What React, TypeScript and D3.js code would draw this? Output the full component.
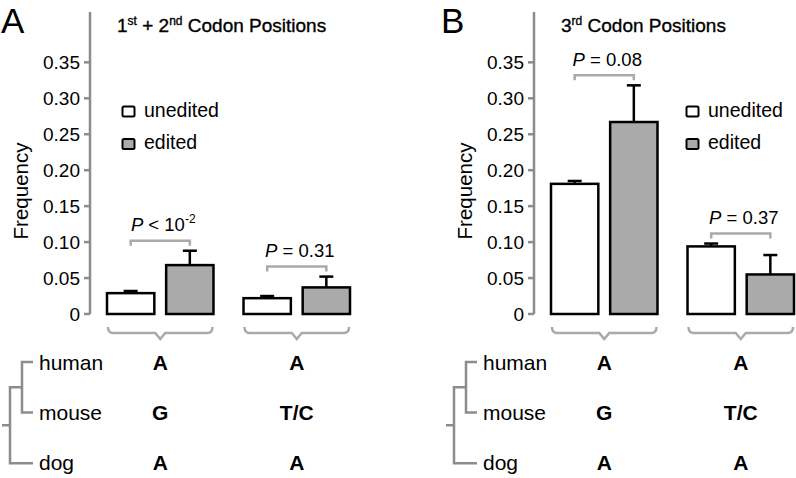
import React from "react";
import * as d3 from "d3";

const groups = ["g1", "g2"];
const seriesNames = ["unedited", "edited"];
const yTicks = [0, 0.05, 0.1, 0.15, 0.2, 0.25, 0.3, 0.35];

const meansA_unedited = [0.029, 0.022];
const meansA_edited = [0.068, 0.037];
const errA_unedited = [0.003, 0.003];
const errA_edited = [0.020, 0.015];
const pLabelsA = ["< 10", "= 0.31"];
const pSupA = ["-2", ""];

const meansB_unedited = [0.181, 0.094];
const meansB_edited = [0.267, 0.055];
const errB_unedited = [0.004, 0.004];
const errB_edited = [0.051, 0.027];
const pLabelsB = ["= 0.08", "= 0.37"];
const pSupB = ["", ""];

const species = ["human", "mouse", "dog"];
const allelesG1 = ["A", "G", "A"];
const allelesG2 = ["A", "T/C", "A"];

const FONT = "'Liberation Sans', Arial, Helvetica, sans-serif";
const AXIS_GRAY = "#8c8c8c";
const LIGHT_GRAY = "#aaaaaa";
const BAR_GRAY = "#aaaaaa";

const y = d3.scaleLinear().domain([0, 0.42]).range([314, 12]);
const xGroup = d3.scaleBand<string>().domain(groups).range([107, 350]).paddingInner(0.22).paddingOuter(0);
const xSeries = d3.scaleBand<string>().domain(seriesNames).range([0, xGroup.bandwidth()]).paddingInner(0.2).paddingOuter(0);

function Panel(props: {
  ox: number;
  letter: string;
  title: React.ReactNode;
  unedited: number[];
  edited: number[];
  errU: number[];
  errE: number[];
  pLabels: string[];
  pSup: string[];
  legendX: number;
}) {
  const { ox, letter, title, unedited, edited, errU, errE, pLabels, pSup, legendX } = props;
  const axisX = 90;
  const capW = 14;
  const treeRows = species.map((_, i) => 362 + i * 50.6);
  return (
    <g transform={`translate(${ox},0)`} fontFamily={FONT}>
      <text x={letter === "A" ? 1 : -3} y={33} fontSize={35} fill="#000">{letter}</text>
      <text x={117} y={32} fontSize={19} fill="#000" stroke="#000" strokeWidth={0.35}>{title}</text>
      {/* axis */}
      <line x1={axisX} x2={axisX} y1={y(0.42)} y2={y(0)} stroke={AXIS_GRAY} strokeWidth={2.5} />
      {yTicks.map((t) => (
        <g key={t}>
          <line x1={axisX - 6} x2={axisX} y1={y(t)} y2={y(t)} stroke={AXIS_GRAY} strokeWidth={2.5} />
          <text x={axisX - 10} y={y(t) + 7} fontSize={19} textAnchor="end" fill="#000">
            {t === 0 ? "0" : t.toFixed(2)}
          </text>
        </g>
      ))}
      <text transform={`translate(28,191) rotate(-90)`} fontSize={20.5} textAnchor="middle" fill="#000">Frequency</text>
      {/* legend */}
      {seriesNames.map((s, i) => (
        <g key={s}>
          <rect x={legendX + 0.5} y={106.5 + i * 32.5} width={12} height={10} rx={1.5}
            fill={s === "edited" ? BAR_GRAY : "#fff"} stroke="#000" strokeWidth={2} />
          <text x={legendX + 22} y={117 + i * 32} fontSize={19.5} fill="#000">{s}</text>
        </g>
      ))}
      {/* bars */}
      {groups.map((g, gi) => {
        const gx = xGroup(g)!;
        const vals = [unedited[gi], edited[gi]];
        const errs = [errU[gi], errE[gi]];
        const centers = seriesNames.map((s) => gx + xSeries(s)! + xSeries.bandwidth() / 2);
        const maxTop = Math.max(vals[0] + errs[0], vals[1] + errs[1]);
        const by = y(maxTop) - 10;
        const gc = gx + xGroup.bandwidth() / 2;
        const bl = gx;
        const br = gx + xGroup.bandwidth();
        return (
          <g key={g}>
            {seriesNames.map((s, si) => {
              const bx = gx + xSeries(s)!;
              const v = vals[si];
              const top = y(v + errs[si]);
              const cx = centers[si];
              return (
                <g key={s}>
                  <line x1={cx} x2={cx} y1={y(v)} y2={top} stroke="#000" strokeWidth={2.5} />
                  <line x1={cx - capW / 2} x2={cx + capW / 2} y1={top} y2={top} stroke="#000" strokeWidth={2.5} />
                  <rect x={bx} y={y(v)} width={xSeries.bandwidth()} height={y(0) - y(v)}
                    fill={s === "edited" ? BAR_GRAY : "#fff"} stroke="#000" strokeWidth={2.5} />
                </g>
              );
            })}
            {/* p bracket */}
            <path d={`M${centers[0]},${by + 5}V${by}H${centers[1]}V${by + 5}`} fill="none" stroke={LIGHT_GRAY} strokeWidth={2.5} />
            <text x={(centers[0] + centers[1]) / 2 + 3} y={by - 9.5} fontSize={18.5} textAnchor="middle" fill="#000">
              <tspan fontStyle="italic">P</tspan>
              <tspan>{" " + pLabels[gi]}</tspan>
              {pSup[gi] ? <tspan fontSize={12} dy={-8}>{pSup[gi]}</tspan> : null}
            </text>
            {/* brace */}
            <path d={`M${bl + 1},327 Q${bl + 1},333 ${bl + 6},333 L${gc - 5},333 L${gc},339 L${gc + 5},333 L${br - 6},333 Q${br - 1},333 ${br - 1},327`}
              fill="none" stroke={LIGHT_GRAY} strokeWidth={2.5} />
            {(gi === 0 ? allelesG1 : allelesG2).map((a, ai) => (
              <text key={ai} x={gc} y={370 + ai * 50} fontSize={21} fontWeight="bold" textAnchor="middle" fill="#000">{a}</text>
            ))}
          </g>
        );
      })}
      {/* tree */}
      <path d={`M33,${treeRows[0]}H22V${treeRows[1]}H33`} fill="none" stroke={AXIS_GRAY} strokeWidth={2.5} />
      <path d={`M22,${(treeRows[0] + treeRows[1]) / 2}H10V${treeRows[2]}H33`} fill="none" stroke={AXIS_GRAY} strokeWidth={2.5} />
      <path d={`M2,${((treeRows[0] + treeRows[1]) / 2 + treeRows[2]) / 2}H10`} fill="none" stroke={AXIS_GRAY} strokeWidth={2.5} />
      {species.map((s, i) => (
        <text key={s} x={39} y={370 + i * 50} fontSize={21} fill="#000">{s}</text>
      ))}
    </g>
  );
}

export default function App() {
  return (
    <svg width={796} height={478} style={{ position: "absolute", left: 0, top: 0, background: "#fff" }}>
      <rect width={796} height={478} fill="#fff" />
      <Panel
        ox={0}
        letter="A"
        title={<>
          <tspan>1</tspan><tspan fontSize={12} dy={-7}>st</tspan>
          <tspan dy={7}>{" + 2"}</tspan><tspan fontSize={12} dy={-7}>nd</tspan>
          <tspan dy={7}>{" Codon Positions"}</tspan>
        </>}
        unedited={meansA_unedited}
        edited={meansA_edited}
        errU={errA_unedited}
        errE={errA_edited}
        pLabels={pLabelsA}
        pSup={pSupA}
        legendX={122}
      />
      <Panel
        ox={444}
        letter="B"
        title={<>
          <tspan>3</tspan><tspan fontSize={12} dy={-7}>rd</tspan>
          <tspan dy={7}>{" Codon Positions"}</tspan>
        </>}
        unedited={meansB_unedited}
        edited={meansB_edited}
        errU={errB_unedited}
        errE={errB_edited}
        pLabels={pLabelsB}
        pSup={pSupB}
        legendX={242}
      />
    </svg>
  );
}
